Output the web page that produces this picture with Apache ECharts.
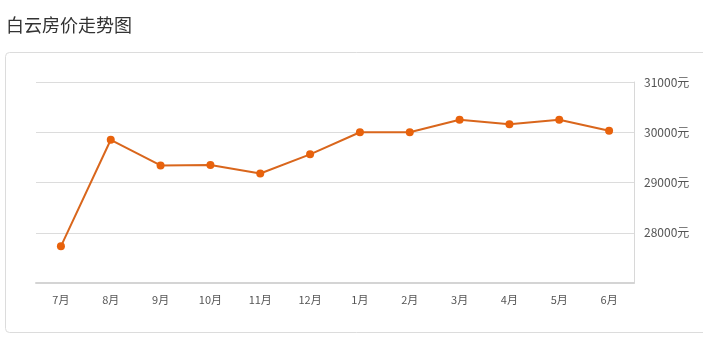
<!DOCTYPE html>
<html><head><meta charset="utf-8">
<script src="https://cdn.jsdelivr.net/npm/echarts@6/dist/echarts.min.js"></script>
<style>html,body{margin:0;padding:0;background:#fff}#c{width:703px;height:342px}</style>
</head><body><div id="c"></div>
<script>
const categories = ['7月','8月','9月','10月','11月','12月','1月','2月','3月','4月','5月','6月'];
const prices = [27730, 29850, 29340, 29350, 29180, 29560, 30000, 30000, 30250, 30160, 30250, 30030];
const chart = echarts.init(document.getElementById('c'));
chart.setOption({
  animation: false,
  title: {text: '白云房价走势图', left: 1, top: 11, textStyle: {fontSize: 18, fontWeight: 'normal', color: '#333', fontFamily: 'Noto Sans CJK SC'}},
  graphic: [{type: 'rect', shape: {x: 5.5, y: 52.5, width: 720, height: 280, r: 4}, style: {fill: '#fff', stroke: '#dcdcdc', lineWidth: 1}, z: -10}],
  grid: {left: 36, right: 69, top: 82, bottom: 59},
  xAxis: {type: 'category', data: categories, boundaryGap: true,
    axisLine: {lineStyle: {color: '#d4d4d4', width: 2}},
    axisTick: {alignWithLabel: true, length: 5, lineStyle: {color: '#e0e0e0'}},
    axisLabel: {color: '#555', fontSize: 11, margin: 11, fontFamily: 'Noto Sans CJK SC'}},
  yAxis: {type: 'value', position: 'right', min: 27000, max: 31000, interval: 1000,
    axisLine: {show: true, lineStyle: {color: '#d8d8d8'}},
    axisTick: {show: false},
    splitLine: {lineStyle: {color: '#dcdcdc'}},
    axisLabel: {color: '#555', fontSize: 12, margin: 10, fontFamily: 'Noto Sans CJK SC', showMinLabel: false,
      formatter: v => v + '元'}},
  series: [{type: 'line', data: prices, symbol: 'circle', symbolSize: 8,
    lineStyle: {color: '#d9661c', width: 2},
    itemStyle: {color: '#e8620c'}}]
});
</script></body></html>
